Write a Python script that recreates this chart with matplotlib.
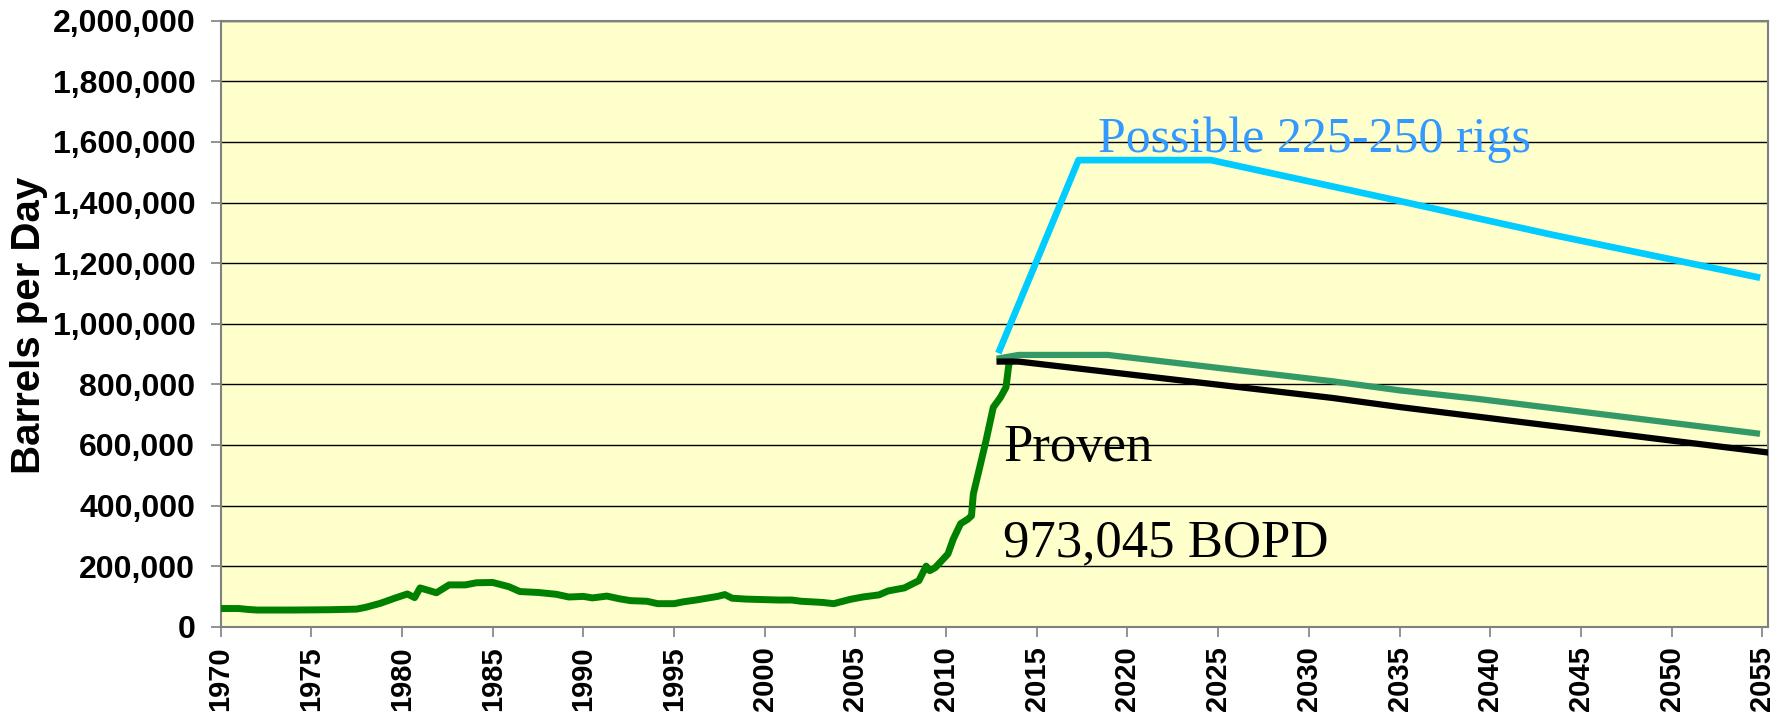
import matplotlib.pyplot as plt
from matplotlib.ticker import FuncFormatter

# historical production (year, barrels per day)
hist_year = [1970.0, 1971.0, 1971.5, 1972.0, 1974.0, 1976.0, 1977.5, 1978.0, 1978.8, 1979.6,
             1980.3, 1980.7, 1981.0, 1981.9, 1982.6, 1983.5, 1984.1, 1985.0, 1985.9, 1986.5,
             1987.5, 1988.5, 1989.2, 1990.0, 1990.5, 1991.3, 1992.0, 1992.6, 1993.5, 1994.1,
             1995.0, 1995.5, 1996.2, 1997.4, 1997.8, 1998.2, 1999.0, 2000.8, 2001.5, 2002.0,
             2003.2, 2003.8, 2004.7, 2005.4, 2006.3, 2006.8, 2007.7, 2008.5, 2008.9, 2009.1,
             2009.4, 2010.1, 2010.4, 2010.8, 2011.2, 2011.4, 2011.5, 2011.9, 2012.2, 2012.6,
             2013.0, 2013.3, 2013.45, 2013.5]
hist_bopd = [60e3, 60e3, 57e3, 55e3, 55e3, 56e3, 58e3, 64e3, 77e3, 94e3,
             108e3, 96e3, 128e3, 112e3, 138e3, 138e3, 145e3, 146e3, 132e3, 116e3,
             113e3, 107e3, 98e3, 100e3, 95e3, 101e3, 92e3, 86e3, 84e3, 76e3,
             76e3, 82e3, 88e3, 100e3, 106e3, 94e3, 91e3, 88e3, 88e3, 84e3,
             80e3, 76e3, 90e3, 98e3, 105e3, 118e3, 128e3, 152e3, 200e3, 185e3,
             195e3, 240e3, 290e3, 340e3, 355e3, 366e3, 438e3, 538e3, 614e3, 724e3,
             757e3, 790e3, 861e3, 872e3]

# projections
poss_year = [2012.95, 2017.3, 2024.6, 2035.0, 2043.3, 2054.7]
poss_bopd = [913e3, 1540e3, 1540e3, 1405e3, 1295e3, 1154e3]

mid_year = [2012.95, 2014.0, 2018.9, 2031.3, 2035.0, 2039.3, 2054.7]
mid_bopd = [886e3, 897e3, 897e3, 810e3, 780e3, 752e3, 638e3]

proven_year = [2012.95, 2014.0, 2031.3, 2035.0, 2055.3]
proven_bopd = [875e3, 875e3, 755e3, 725e3, 575e3]

x_ticks = list(range(1970, 2056, 5))
y_ticks = list(range(0, 2000001, 200000))

fig = plt.figure(figsize=(17.86, 7.22), dpi=100)
ax = fig.add_axes([0.1235, 0.1320, 0.8666, 0.8393])
ax.set_facecolor("#FFFFCC")

ax.plot(hist_year, hist_bopd, color="#008000", lw=5.0, solid_capstyle="butt", zorder=3)
ax.plot(poss_year, poss_bopd, color="#00CCFF", lw=4.8, zorder=3)
ax.plot(mid_year, mid_bopd, color="#339966", lw=4.5, zorder=3)
ax.plot(proven_year, proven_bopd, color="black", lw=4.5, zorder=4)

ax.set_xlim(1970, 2055.33)
ax.set_ylim(0, 2000000)
ax.set_xticks(x_ticks)
ax.set_yticks(y_ticks)
ax.yaxis.set_major_formatter(FuncFormatter(lambda v, p: f"{int(v):,}"))
ax.grid(axis="y", color="black", lw=1.0, zorder=1)
ax.set_axisbelow(True)

for s in ax.spines.values():
    s.set_color("#808080")
    s.set_linewidth(1.5)

ax.tick_params(length=7.2, width=1.2, color="#808080")
ax.tick_params(axis="y", pad=11)
ax.tick_params(axis="x", pad=7)
for lab in ax.get_yticklabels():
    lab.set(family="Liberation Sans", weight="bold", size=23)
for lab in ax.get_xticklabels():
    lab.set(family="Liberation Sans", weight="bold", size=21, rotation=90)

fig.text(29 / 1786, 1 - 325 / 722, "Barrels per Day", rotation=90, ha="center", va="center",
         family="Liberation Sans", weight="bold", size=29)

serif = "Liberation Serif"
ax.text(2018.39, 1.5675e6, "Possible 225-250 rigs", color="#3399FF", family=serif,
        size=36, va="baseline", ha="left", zorder=5)
ax.text(2013.14, 547.8e3, "Proven", color="black", family=serif,
        size=38, va="baseline", ha="left", zorder=5)
ax.text(2013.14, 231e3, "973,045 BOPD", color="black", family=serif,
        size=38, va="baseline", ha="left", zorder=5)

fig.savefig("out.png", dpi=100)
